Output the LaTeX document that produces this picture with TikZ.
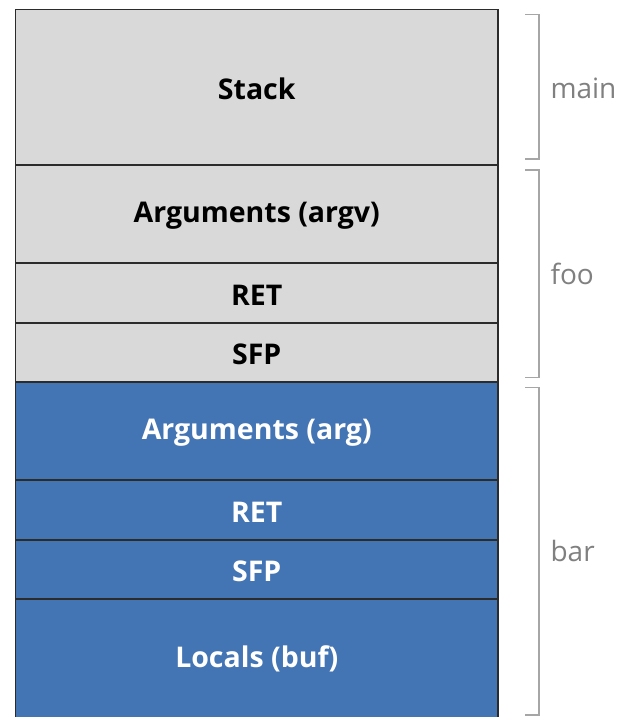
\documentclass[tikz,border=0pt]{standalone}
\usepackage{fontspec}
\setmainfont{Open Sans}
\definecolor{framegray}{HTML}{D9D9D9}
\definecolor{frameblue}{HTML}{4374B3}
\definecolor{edge}{HTML}{2B2B2B}
\definecolor{bracegray}{HTML}{A6A6A6}
\definecolor{labelgray}{HTML}{808080}
\begin{document}
\begin{tikzpicture}[x=1pt,y=-1pt,
  cell/.style={draw=edge,line width=1.6pt},
  graycell/.style={cell,fill=framegray},
  bluecell/.style={cell,fill=frameblue},
  darktext/.style={font=\fontsize{28.5}{32}\selectfont\bfseries,text=black,yshift=-2pt},
  lighttext/.style={font=\fontsize{28.5}{32}\selectfont\bfseries,text=white,yshift=-2pt},
  frametag/.style={font=\fontsize{28}{32}\selectfont,text=labelgray,anchor=west},
  brace/.style={draw=bracegray,line width=1.6pt}]
\useasboundingbox (0,0) rectangle (621,717);
\fill[white] (0,0) rectangle (621,717);

% stack slots, top to bottom
\draw[graycell] (15.5,9.5) rectangle (498,165) node[midway,darktext] (stack) {Stack};
\draw[graycell] (15.5,165) rectangle (498,263) node[midway,darktext] (argv) {Arguments (argv)};
\draw[graycell] (15.5,263) rectangle (498,323) node[midway,darktext] (ret1) {RET};
\draw[graycell] (15.5,323) rectangle (498,382) node[midway,darktext] (sfp1) {SFP};
\draw[bluecell] (15.5,382) rectangle (498,480) node[midway,lighttext] (arg) {Arguments (arg)};
\draw[bluecell] (15.5,480) rectangle (498,540) node[midway,lighttext] (ret2) {RET};
\draw[bluecell] (15.5,540) rectangle (498,599) node[midway,lighttext] (sfp2) {SFP};
\draw[bluecell] (15.5,599) rectangle (498,725) node[midway,lighttext,yshift=5pt] (buf) {Locals (buf)};

% frame brackets
\coordinate (mainT) at (539,14.5);  \coordinate (mainB) at (539,159);
\coordinate (fooT) at (539,170);    \coordinate (fooB) at (539,377.5);
\coordinate (barT) at (539,387.5);  \coordinate (barB) at (539,715);
\draw[brace] ([xshift=-14pt]mainT) -- (mainT) -- (mainB) -- ([xshift=-14pt]mainB);
\draw[brace] ([xshift=-14pt]fooT) -- (fooT) -- (fooB) -- ([xshift=-14pt]fooB);
\draw[brace] ([xshift=-14pt]barT) -- (barT) -- (barB) -- ([xshift=-14pt]barB);

\node[frametag] (mainlbl) at (547,88) {main};
\node[frametag] (foolbl) at (547,274) {foo};
\node[frametag] (barlbl) at (547,551) {bar};
\end{tikzpicture}
\end{document}
